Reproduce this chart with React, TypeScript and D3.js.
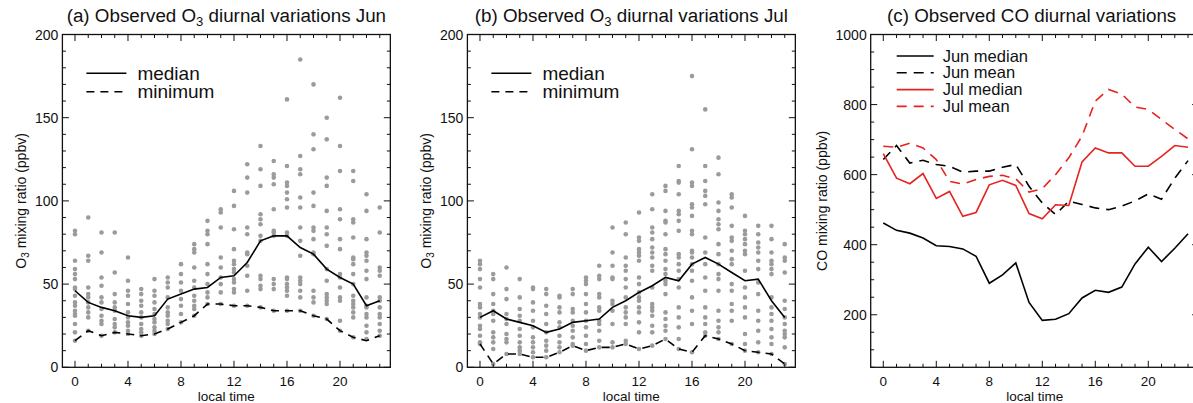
import React from "react";
import * as d3 from "d3";

// local time categories
const hours = [0, 1, 2, 3, 4, 5, 6, 7, 8, 9, 10, 11, 12, 13, 14, 15, 16, 17, 18, 19, 20, 21, 22, 23];
const xTickLabels = [0, 4, 8, 12, 16, 20];
const o3TickLabels = [0, 50, 100, 150, 200];
const coTickLabels = [200, 400, 600, 800, 1000];

// (a) June O3 individual observations, one list per hour
const junO3Points = [
  [82, 80, 64, 59, 56, 53, 48, 47, 43, 39, 37, 34, 32, 31, 26, 21, 16],
  [90, 67, 64, 48, 44, 42, 39, 36, 33, 30, 22],
  [81, 69, 54, 49, 42, 39, 35, 31, 28, 26, 19],
  [81, 57, 44, 39, 36, 34, 29, 26, 24, 21],
  [66, 52, 46, 43, 38, 33, 30, 27, 25, 22, 20],
  [47, 44, 40, 37, 33, 30, 26, 23, 21, 19],
  [53, 46, 43, 39, 35, 32, 29, 27, 24, 22, 20],
  [54, 51, 48, 42, 36, 33, 31, 28, 26, 23],
  [62, 56, 51, 46, 41, 37, 32, 27],
  [74, 71, 69, 60, 52, 48, 43, 40, 37, 35, 31],
  [88, 82, 80, 74, 62, 56, 50, 45, 42, 38],
  [95, 93, 84, 66, 60, 54, 50, 45, 38],
  [106, 97, 83, 71, 64, 62, 59, 57, 53, 51, 47, 45, 37],
  [122, 114, 105, 84, 80, 69, 68, 61, 55, 46, 37],
  [133, 119, 109, 92, 89, 86, 79, 76, 55, 53, 49, 47, 36],
  [124, 116, 114, 110, 95, 82, 81, 79, 53, 50, 47, 34],
  [161, 121, 111, 109, 105, 101, 96, 81, 79, 54, 53, 50, 48, 46, 43, 34],
  [185, 127, 119, 116, 102, 96, 84, 76, 67, 54, 52, 50, 46, 42, 34],
  [170, 140, 131, 105, 97, 84, 82, 77, 69, 68, 46, 42, 39, 31],
  [150, 137, 114, 109, 94, 84, 80, 73, 59, 52, 44, 42, 40, 38, 29],
  [162, 133, 118, 95, 89, 77, 71, 56, 54, 48, 42, 40, 28, 22],
  [118, 112, 89, 87, 78, 66, 65, 62, 56, 50, 43, 40, 38, 36, 33, 30, 18],
  [104, 94, 77, 69, 67, 64, 58, 53, 42, 37, 36, 32, 30, 25, 21, 17],
  [96, 81, 60, 58, 55, 42, 40, 36, 32, 30, 26, 22, 19],
];
const junO3Median = [46, 39, 36, 34, 31, 30, 31, 41, 44, 47, 48, 54, 55, 63, 76, 79, 79, 72, 68, 59, 54, 50, 37, 40];
const junO3Min = [16, 22, 19, 21, 20, 19, 20, 23, 27, 31, 38, 38, 37, 37, 36, 34, 34, 34, 31, 29, 22, 18, 16, 19];

// (b) July O3
const julO3Points = [
  [64, 62, 59, 53, 48, 38, 36, 32, 30, 25, 23, 19, 15, 14],
  [56, 53, 44, 38, 34, 32, 28, 21, 18, 15, 11, 2],
  [60, 47, 41, 32, 29, 26, 20, 17, 15, 8],
  [53, 42, 35, 31, 28, 23, 19, 15, 12, 10, 8],
  [48, 47, 39, 34, 28, 24, 18, 15, 12, 9, 6],
  [47, 44, 37, 32, 26, 21, 16, 13, 10, 6],
  [43, 42, 36, 33, 27, 24, 19, 15, 12, 9],
  [47, 44, 35, 33, 28, 25, 22, 18, 14, 13],
  [54, 52, 50, 44, 38, 33, 28, 24, 19, 14, 10],
  [61, 55, 53, 44, 42, 36, 34, 28, 26, 22, 16, 12],
  [84, 69, 61, 54, 53, 40, 38, 34, 26, 15, 12],
  [87, 80, 66, 61, 58, 53, 48, 42, 36, 33, 30, 26, 16, 14],
  [93, 78, 76, 71, 69, 67, 64, 54, 50, 45, 42, 40, 36, 33, 27, 21, 11],
  [104, 95, 84, 81, 77, 72, 69, 66, 61, 58, 48, 38, 36, 34, 31, 25, 21, 13],
  [109, 106, 94, 88, 87, 80, 71, 68, 64, 59, 56, 52, 50, 44, 33, 29, 25, 22, 17],
  [121, 112, 111, 104, 94, 92, 88, 82, 68, 66, 62, 58, 53, 48, 36, 30, 24, 17, 11],
  [175, 131, 111, 109, 98, 96, 91, 82, 80, 70, 69, 66, 62, 58, 52, 42, 34, 26, 9],
  [155, 121, 112, 106, 103, 98, 78, 69, 62, 54, 46, 36, 30, 26, 21, 19],
  [126, 116, 99, 94, 89, 86, 83, 74, 68, 62, 56, 53, 46, 34, 28, 24, 21, 17],
  [104, 102, 96, 85, 78, 76, 70, 65, 62, 50, 46, 38, 34, 28, 14],
  [91, 82, 80, 77, 74, 70, 68, 58, 48, 42, 36, 30, 20, 14, 10],
  [85, 80, 75, 72, 69, 64, 59, 51, 44, 34, 28, 22, 15, 9],
  [85, 77, 69, 64, 62, 59, 56, 42, 36, 32, 28, 23, 18, 14, 8],
  [74, 66, 64, 57, 40, 35, 30, 26, 22, 20, 18, 12, 2],
];
const julO3Median = [30, 34, 29, 27, 25, 21, 23, 27, 28, 29, 36, 40, 45, 49, 54, 52, 62, 66, 62, 57, 52, 53, 40, 30];
const julO3Min = [14, 2, 8, 8, 6, 6, 9, 13, 10, 12, 12, 14, 11, 13, 17, 11, 9, 19, 17, 14, 10, 9, 8, 2];

// (c) CO
const coJunMedian = [462, 441, 433, 419, 397, 395, 388, 367, 290, 314, 348, 235, 184, 187, 203, 248, 270, 264, 279, 345, 393, 352, 390, 431];
const coJunMean = [643, 683, 633, 641, 629, 624, 607, 610, 610, 621, 629, 567, 519, 486, 524, 515, 505, 500, 510, 525, 545, 530, 590, 640];
const coJulMedian = [660, 590, 574, 603, 532, 552, 481, 492, 571, 584, 569, 489, 474, 514, 512, 636, 676, 662, 662, 624, 624, 652, 683, 678];
const coJulMean = [681, 678, 690, 676, 643, 581, 573, 586, 595, 598, 588, 550, 560, 600, 648, 710, 810, 843, 830, 793, 786, 757, 729, 702];

const font = '"Liberation Sans", Arial, Helvetica, sans-serif';
const plotTop = 34.5;
const plotBottom = 367.3;
const hourPx = 13.25;
const xLo = -0.95;
const xHi = 23.8;
const red = "#e52421";
const dotGray = "#9b9b9b";
const titleSize = 18.8;

function Axes({ left, y, majors, minors, labels }) {
  const x = d3.scaleLinear().domain([xLo, xHi]).range([left, left + (xHi - xLo) * hourPx]);
  const right = x(xHi);
  const maj = 6.5;
  const min = 3.5;
  return (
    <g>
      <rect x={left} y={plotTop} width={right - left} height={plotBottom - plotTop} fill="none" stroke="#111" strokeWidth={1.3} />
      {hours.map((h) => {
        const len = xTickLabels.includes(h) ? maj : min;
        return (
          <g key={"xt" + h} stroke="#111" strokeWidth={1}>
            <line x1={x(h)} x2={x(h)} y1={plotBottom} y2={plotBottom - len} />
            <line x1={x(h)} x2={x(h)} y1={plotTop} y2={plotTop + len} />
          </g>
        );
      })}
      {minors.map((v) => {
        const len = majors.includes(v) ? maj : min;
        return (
          <g key={"yt" + v} stroke="#111" strokeWidth={1}>
            <line x1={left} x2={left + len} y1={y(v)} y2={y(v)} />
            <line x1={right} x2={right - len} y1={y(v)} y2={y(v)} />
          </g>
        );
      })}
      {xTickLabels.map((h) => (
        <text key={"xl" + h} x={x(h)} y={385.5} textAnchor="middle" fontSize={13.5}>
          {h}
        </text>
      ))}
      {labels.map((v) => (
        <text key={"yl" + v} x={left - 4} y={y(v) + 5} textAnchor="end" fontSize={14}>
          {v}
        </text>
      ))}
      <text x={(left + right) / 2} y={400.5} textAnchor="middle" fontSize={13.5}>
        local time
      </text>
    </g>
  );
}

function O3Panel({ left, points, median, minimum, title, month }) {
  const x = d3.scaleLinear().domain([xLo, xHi]).range([left, left + (xHi - xLo) * hourPx]);
  const y = d3.scaleLinear().domain([0, 200]).range([plotBottom, plotTop]);
  const line = d3
    .line<number>()
    .x((_, i) => x(hours[i]))
    .y((d) => y(d));
  const cx = (left + x(xHi)) / 2;
  const cy = (plotTop + plotBottom) / 2;
  return (
    <g>
      <text x={cx} y={22} textAnchor="middle" fontSize={titleSize}>
        {title} O<tspan dy={4} fontSize={13}>3</tspan>
        <tspan dy={-4}> diurnal variations {month}</tspan>
      </text>
      <text transform={`translate(${left - 36},${cy}) rotate(-90)`} textAnchor="middle" fontSize={14}>
        O<tspan dy={3} fontSize={10}>3</tspan>
        <tspan dy={-3}> mixing ratio (ppbv)</tspan>
      </text>
      {points.map((vals, i) =>
        vals.map((v, j) => <circle key={i + "-" + j} cx={x(hours[i])} cy={y(v)} r={2.3} fill={dotGray} />)
      )}
      <path d={line(median)} fill="none" stroke="#000" strokeWidth={1.6} />
      <path d={line(minimum)} fill="none" stroke="#000" strokeWidth={1.6} strokeDasharray="8 6" />
      <Axes left={left} y={y} majors={o3TickLabels} minors={d3.range(0, 201, 10)} labels={o3TickLabels} />
      <line x1={left + 24} x2={left + 64} y1={73.3} y2={73.3} stroke="#000" strokeWidth={1.6} />
      <line x1={left + 24} x2={left + 64} y1={91.7} y2={91.7} stroke="#000" strokeWidth={1.6} strokeDasharray="8 6" />
      <text x={left + 75} y={80} fontSize={19}>median</text>
      <text x={left + 75} y={98.4} fontSize={19}>minimum</text>
    </g>
  );
}

function COPanel({ left }) {
  const x = d3.scaleLinear().domain([xLo, xHi]).range([left, left + (xHi - xLo) * hourPx]);
  const y = d3.scaleLinear().domain([50, 1000]).range([plotBottom, plotTop]);
  const line = d3
    .line<number>()
    .x((_, i) => x(hours[i]))
    .y((d) => y(d));
  const cx = (left + x(xHi)) / 2;
  const cy = (plotTop + plotBottom) / 2;
  const series = [
    { name: "Jun median", data: coJunMedian, color: "#000", dash: null },
    { name: "Jun mean", data: coJunMean, color: "#000", dash: "10 7" },
    { name: "Jul median", data: coJulMedian, color: red, dash: null },
    { name: "Jul mean", data: coJulMean, color: red, dash: "10 7" },
  ];
  const rowGap = 16.8;
  return (
    <g>
      <text x={cx - 3} y={22} textAnchor="middle" fontSize={titleSize}>
        (c) Observed CO diurnal variations
      </text>
      <text transform={`translate(${left - 44},${cy}) rotate(-90)`} textAnchor="middle" fontSize={14}>
        CO mixing ratio (ppbv)
      </text>
      {series.map((s) => (
        <path key={s.name} d={line(s.data)} fill="none" stroke={s.color} strokeWidth={1.6} strokeDasharray={s.dash || undefined} />
      ))}
      <Axes left={left} y={y} majors={coTickLabels} minors={d3.range(50, 1001, 50)} labels={coTickLabels} />
      {series.map((s, i) => (
        <g key={"lg" + s.name}>
          <line x1={left + 26} x2={left + 63} y1={56 + i * rowGap} y2={56 + i * rowGap} stroke={s.color} strokeWidth={1.6} strokeDasharray={s.dash || undefined} />
          <text x={left + 72} y={61.5 + i * rowGap} fontSize={16.5}>
            {s.name}
          </text>
        </g>
      ))}
    </g>
  );
}

export default function App() {
  return (
    <svg
      width={1193}
      height={403}
      style={{ position: "absolute", left: 0, top: 0, background: "#fff" }}
      fontFamily={font}
      fill="#111"
    >
      <O3Panel left={62.4} points={junO3Points} median={junO3Median} minimum={junO3Min} title="(a) Observed" month="Jun" />
      <O3Panel left={467.4} points={julO3Points} median={julO3Median} minimum={julO3Min} title="(b) Observed" month="Jul" />
      <COPanel left={870.7} />
    </svg>
  );
}
